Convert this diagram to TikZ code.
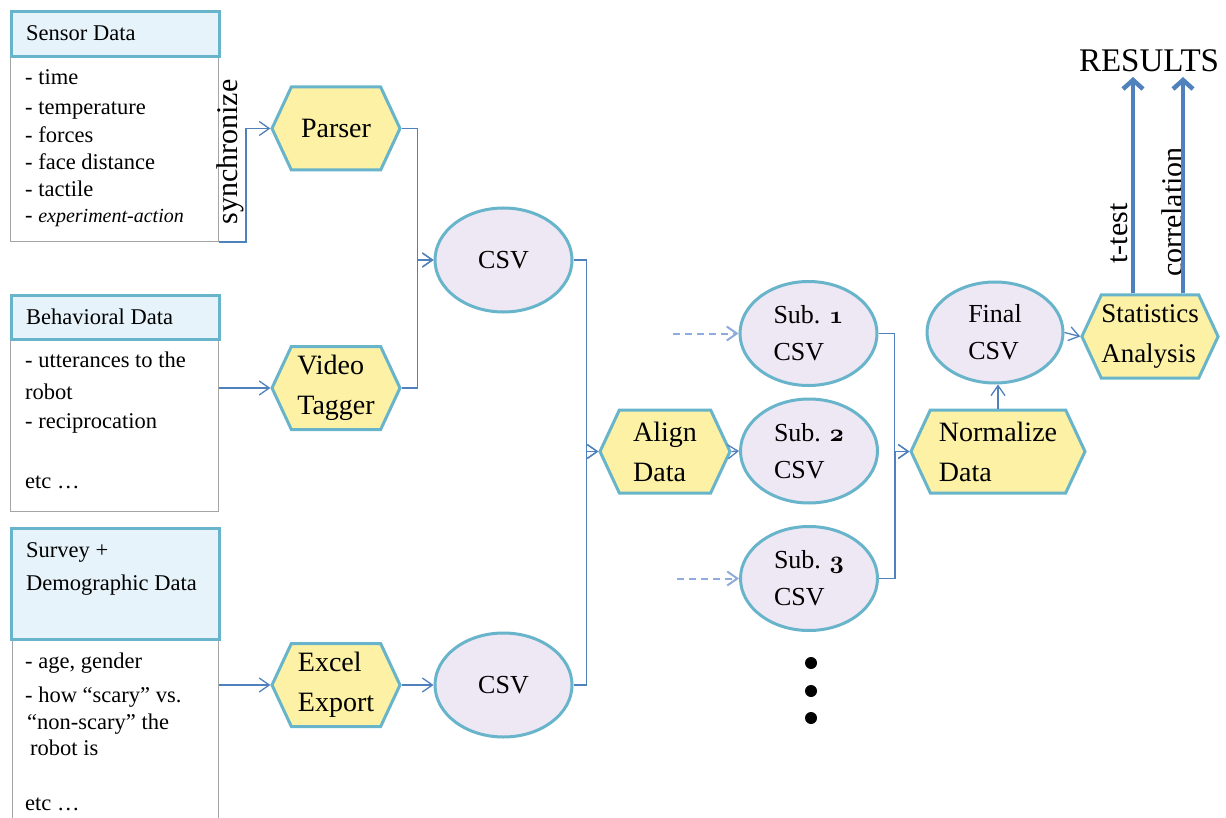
\documentclass[tikz,border=0pt]{standalone}
\usepackage{fontspec}
\setmainfont{Liberation Serif}
\usetikzlibrary{shapes.geometric,shapes.symbols,arrows.meta}
\newcommand\osnum[1]{{\usefont{OML}{cmm}{b}{it}#1}}
\definecolor{hexfill}{HTML}{FCF1A4}
\definecolor{shapeborder}{HTML}{68B4CA}
\definecolor{ellfill}{HTML}{EEE7F4}
\definecolor{hdrfill}{HTML}{E6F3FA}
\definecolor{bodyline}{HTML}{A5A5A5}
\definecolor{conncol}{HTML}{4F81BD}
\definecolor{dashcol}{HTML}{8FAADC}
\tikzset{
 hexa/.style={shape=signal, signal to=west and east, signal pointer angle=130, draw=shapeborder, fill=hexfill, line width=3pt, minimum width=128pt, minimum height=83pt, inner sep=0pt, align=left, font=\fontsize{28}{40}\selectfont},
 csvell/.style={ellipse, draw=shapeborder, fill=ellfill, line width=3pt, minimum width=137pt, minimum height=104pt, inner sep=0pt, align=left, font=\fontsize{26}{37}\selectfont},
 hdr/.style={draw=shapeborder, fill=hdrfill, line width=3pt, minimum width=208pt, inner sep=0pt, anchor=north west},
 bodybox/.style={draw=bodyline, line width=1pt, minimum width=208pt, inner sep=0pt, anchor=north west},
 boxtext/.style={anchor=base west, inner sep=0pt, font=\fontsize{22.5}{26}\selectfont},
 conn/.style={draw=conncol, line width=1.3pt, -{Straight Barb[length=10pt,width=14pt]}},
 dconn/.style={draw=dashcol, line width=2pt, dash pattern=on 7pt off 5pt, -{Straight Barb[length=10pt,width=14pt]}},
 bigarr/.style={draw=conncol, line width=4.5pt, -{Straight Barb[length=9pt,width=20pt]}},
 rottext/.style={rotate=90, inner sep=0pt, font=\fontsize{30}{32}\selectfont},
 bigdot/.style={circle, fill=black, minimum size=12pt, inner sep=0pt},
}
\begin{document}
\begin{tikzpicture}[x=1pt,y=-1pt]
\clip (0,0) rectangle (1226,818);
\fill[white] (0,0) rectangle (1226,818);

% ---- left boxes ----
\node[bodybox, minimum height=186pt] (sbody) at (10,55) {};
\node[hdr, minimum height=45pt] (shdr) at (10,10) {};
\node[boxtext] (st0) at (26,41) {Sensor Data};
\node[boxtext] (st1) at (25,85) {- time};
\node[boxtext] (st2) at (25,115) {- temperature};
\node[boxtext] (st3) at (25,143) {- forces};
\node[boxtext] (st4) at (25,170) {- face distance};
\node[boxtext] (st5) at (25,197) {- tactile};
\node[boxtext] (st6) at (25,223) {- {\fontsize{20}{24}\selectfont\itshape experiment-action}};

\node[bodybox, minimum height=173pt] (bbody) at (10,338) {};
\node[hdr, minimum height=44pt] (bhdr) at (10,294) {};
\node[boxtext] (bt0) at (26,324) {Behavioral Data};
\node[boxtext] (bt1) at (25,367) {- utterances to the};
\node[boxtext] (bt2) at (25,399) {robot};
\node[boxtext] (bt3) at (25,428) {- reciprocation};
\node[boxtext] (bt4) at (25,488) {etc \dots};

\node[bodybox, minimum width=206pt, minimum height=220pt] (ybody) at (12,638) {};
\node[hdr, minimum height=111pt] (yhdr) at (10,527) {};
\node[boxtext] (yt0) at (26,557) {Survey +};
\node[boxtext] (yt1) at (26,590) {Demographic Data};
\node[boxtext] (yt2) at (25,668) {- age, gender};
\node[boxtext] (yt3) at (25,702) {- how “scary” vs.};
\node[boxtext] (yt4) at (27,729) {“non-scary” the};
\node[boxtext] (yt5) at (30,755) {robot is};
\node[boxtext] (yt6) at (25,810) {etc \dots};

\node[rottext] (sync) at (230,152) {synchronize};

% ---- process nodes ----
\node[hexa] (parser) at (336,128.5) {Parser};
\node[hexa] (video) at (336,388) {Video\\Tagger};
\node[hexa] (excel) at (336,685) {Excel\\Export};
\node[hexa, minimum width=130pt] (align) at (665,451.5) {Align\\Data};
\node[hexa, minimum width=174pt] (norm) at (998,451.5) {Normalize\\Data};
\node[hexa, minimum width=130pt, font=\fontsize{27}{40}\selectfont] (stats) at (1150,336.5) {Statistics\\Analysis};

\node[csvell] (csv1) at (503.5,260) {CSV};
\node[csvell] (csv2) at (503.5,685) {CSV};
\node[csvell] (sub1) at (808.5,333.5) {Sub. \osnum{1}\\CSV};
\node[csvell] (sub2) at (809,451) {Sub. \osnum{2}\\CSV};
\node[csvell] (sub3) at (809,578.5) {Sub. \osnum{3}\\CSV};
\node[csvell, minimum width=136pt, minimum height=101pt] (final) at (995,332.5) {Final\\CSV};

\node[bigdot] (dot1) at (811,663) {};
\node[bigdot] (dot2) at (811,691) {};
\node[bigdot] (dot3) at (811,718) {};

\node[anchor=base, inner sep=0pt, font=\fontsize{33}{36}\selectfont] (results) at (1149,72) {RESULTS};
\node[rottext] (ttest) at (1119,233.5) {t-test};
\node[rottext] (corr) at (1172,212) {correlation};

% ---- connectors ----
\draw[conn] (sbody.south east) -- ++(27,0) |- (parser.west);
\draw[conn] (bbody.east |- video.west) -- (video.west);
\draw[conn] (ybody.east |- excel.west) -- (excel.west);
\draw[conn] (parser.east) -- ++(16,0) |- (csv1.west);
\draw[conn] (video.east) -- ++(16,0) |- (csv1.west);
\draw[conn] (excel.east) -- (csv2.west);
\draw[conn] (csv1.east) -- ++(13,0) |- (align.west);
\draw[conn] (csv2.east) -- ++(13,0) |- (align.west);
\draw[conn] (align.east) -- (sub2.west);
\draw[conn] (sub1.east) -- ++(16,0) |- (norm.west);
\draw[conn] (sub3.east) -- ++(16,0) |- (norm.west);
\draw[conn] (norm.north) -- (norm.north |- final.south);
\draw[conn] (final.east) -- (stats.west);

\coordinate (d1) at (673,333.5);
\coordinate (d3) at (677,578.5);
\draw[dconn] (d1) -- (sub1.west);
\draw[dconn] (d3) -- (sub3.west);

\coordinate (r1) at (1133,77);
\coordinate (r2) at (1183,77);
\draw[bigarr] (stats.north -| r1) -- (r1);
\draw[bigarr] (stats.north -| r2) -- (r2);
\end{tikzpicture}
\end{document}
